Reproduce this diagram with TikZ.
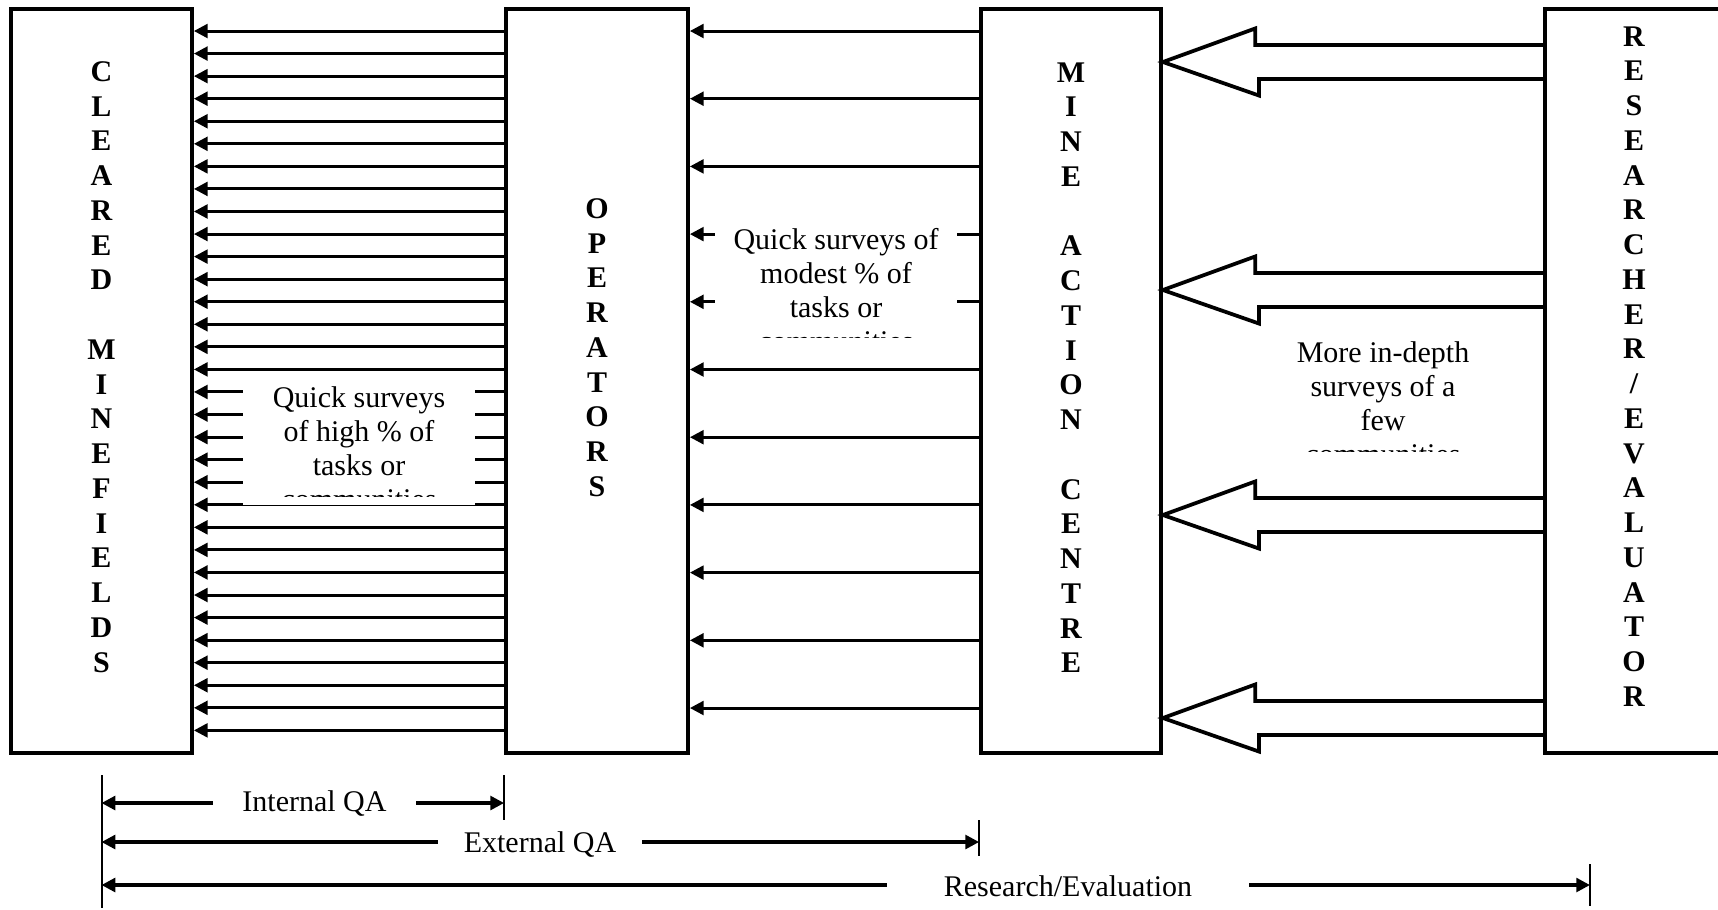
\documentclass[tikz,border=0pt]{standalone}
\usepackage{fontspec}
\setmainfont{Liberation Serif}
\usetikzlibrary{arrows.meta,fit}
\tikzset{
  box/.style={draw,line width=1.5pt,inner sep=0pt},
  vlab/.style={font=\fontsize{12}{13.9}\selectfont\bfseries,align=center,anchor=north,inner sep=0pt},
  tline/.style={line width=1.2pt,-{Triangle[length=5.5pt,width=5.5pt]}},
  fat/.style={line width=1.5pt,line join=miter},
  cover/.style={fill=white,inner sep=0pt},
  note/.style={font=\fontsize{12}{13.6}\selectfont,align=center,anchor=north,inner sep=0pt},
  dim/.style={line width=1.3pt,{Triangle[length=5.5pt,width=5.5pt]}-{Triangle[length=5.5pt,width=5.5pt]}},
  tick/.style={line width=0.8pt},
  dlab/.style={font=\fontsize{12}{13.6}\selectfont,fill=white,inner sep=0pt,minimum height=16pt}
}
\begin{document}
\begin{tikzpicture}[x=0.4pt,y=-0.4pt]
\useasboundingbox (0,0) rectangle (1718,909);
% the four columns
\node[box,fit={(11,9) (192,753)}] (clr) {};
\node[box,fit={(506,9) (688,753)}] (ops) {};
\node[box,fit={(981,9) (1161,753)}] (mac) {};
\node[box,fit={(1545,9) (1723,753)}] (rev) {};
\node[vlab] (clr-t) at (clr.center |- 0,61) {C\\L\\E\\A\\R\\E\\D\\[13.9pt]M\\I\\N\\E\\F\\I\\E\\L\\D\\S};
\node[vlab] (ops-t) at (ops.center |- 0,198) {O\\P\\E\\R\\A\\T\\O\\R\\S};
\node[vlab] (mac-t) at (mac.center |- 0,62) {M\\I\\N\\E\\[13.9pt]A\\C\\T\\I\\O\\N\\[13.9pt]C\\E\\N\\T\\R\\E};
\node[vlab] (rev-t) at (rev.center |- 0,26) {R\\E\\S\\E\\A\\R\\C\\H\\E\\R\\/\\E\\V\\A\\L\\U\\A\\T\\O\\R};
% operators -> minefields
\foreach \k in {0,...,31}{
  \pgfmathsetmacro\yy{31+22.56*\k}
  \draw[tline] (ops.west |- 0,\yy) -- (clr.east |- 0,\yy);
}
% centre -> operators
\foreach \k in {0,...,10}{
  \pgfmathsetmacro\yy{31+67.7*\k}
  \draw[tline] (mac.west |- 0,\yy) -- (ops.east |- 0,\yy);
}
% researcher -> centre
\foreach \t in {62,290,515,718}{
  \pgfmathsetmacro\ya{\t-17}
  \pgfmathsetmacro\yb{\t+17}
  \draw[fat] (rev.west |- 0,\ya) -- ++(-288,0) -- ++(0,-16.5) -- (mac.east |- 0,\t)
    -- ++(96,33.5) -- ++(0,-16.5) -- (rev.west |- 0,\yb);
}
% text boxes
\node[cover,fit={(243,372) (475,505)}] (high) {};
\begin{scope}
  \clip (243,372) rectangle (475,496.5);
  \node[note] (high-t) at (359,386.5) {Quick surveys\\of high \% of\\tasks or\\communities};
\end{scope}
\node[cover,fit={(715,213) (957,346)}] (modest) {};
\begin{scope}
  \clip (715,213) rectangle (957,337.5);
  \node[note] (modest-t) at (836,227.5) {Quick surveys of\\modest \% of\\tasks or\\communities};
\end{scope}
\node[cover,fit={(1263,327) (1503,460)}] (deep) {};
\begin{scope}
  \clip (1263,327) rectangle (1503,451.5);
  \node[note] (deep-t) at (1383,341.5) {More in-depth\\surveys of a\\few\\communities};
\end{scope}
% QA spans
\coordinate (lt) at (clr.center |- 0,775);
\coordinate (lb) at (clr.center |- 0,908);
\coordinate (it) at (ops.west |- 0,775);
\coordinate (ib) at (ops.west |- 0,820);
\coordinate (et) at (mac.west |- 0,820);
\coordinate (eb) at (mac.west |- 0,856);
\coordinate (rt) at (1590,864);
\coordinate (rb) at (1590,906);
\draw[tick] (lt) -- (lb);
\draw[tick] (it) -- (ib);
\draw[tick] (et) -- (eb);
\draw[tick] (rt) -- (rb);
\draw[dim] (lt |- 0,803) -- (it |- 0,803);
\draw[dim] (lt |- 0,842) -- (et |- 0,842);
\draw[dim] (lt |- 0,885) -- (rt |- 0,885);
\node[dlab,minimum width=81.2pt] (int) at (314.5,804) {Internal QA};
\node[dlab,minimum width=81.6pt] (ext) at (540,845) {External QA};
\node[dlab,minimum width=144.8pt] (res) at (1068,886) {Research/Evaluation};
\end{tikzpicture}
\end{document}
